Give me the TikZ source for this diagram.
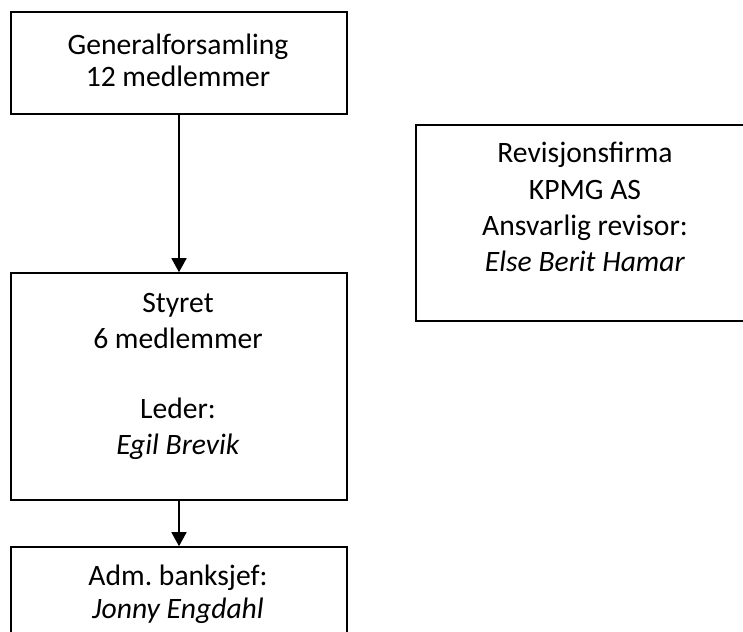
\documentclass[tikz,border=0pt]{standalone}
\usepackage{fontspec}
\setmainfont{Carlito}
\usetikzlibrary{arrows.meta}
\begin{document}
\begin{tikzpicture}[x=1pt,y=1pt,
  box/.style={draw,line width=1.6pt,minimum width=336pt,inner sep=0pt},
  txt/.style={anchor=base,text width=330pt,align=flush center,inner sep=0pt,font=\fontsize{29.6}{36}\selectfont,
    execute at begin node=\frenchspacing},
  pil/.style={line width=1.5pt,-{Triangle[width=15pt,length=14pt]}}]
\useasboundingbox (0,0) rectangle (743,-631);
%Boxes
\node[box,minimum height=102pt] (gen) at (179,-63) {};
\node[box,minimum height=227pt] (styret) at (179,-386.5) {};
\node[box,minimum height=110pt] (adm) at (179,-602) {};
\node[box,minimum height=196pt] (rev) at (584,-223) {};
%Texts
\node[txt,font=\fontsize{29.6}{32}\selectfont] (gentxt) at (178,-55) {Generalforsamling\\12 medlemmer};
\node[txt] (styrettxt) at (178,-312) {Styret\\6 medlemmer\\[34pt]Leder:\\\textit{Egil Brevik}};
\node[txt,font=\fontsize{29.6}{33}\selectfont] (admtxt) at (178,-585) {Adm. banksjef:\\\textit{Jonny Engdahl}};
\node[txt] (revtxt) at (585,-163) {Revisjonsfirma\\KPMG AS\\Ansvarlig revisor:\\\textit{Else Berit Hamar}};
%Arrows
\draw[pil] (gen) -- (styret);
\draw[pil] (styret) -- (adm);
\end{tikzpicture}
\end{document}
